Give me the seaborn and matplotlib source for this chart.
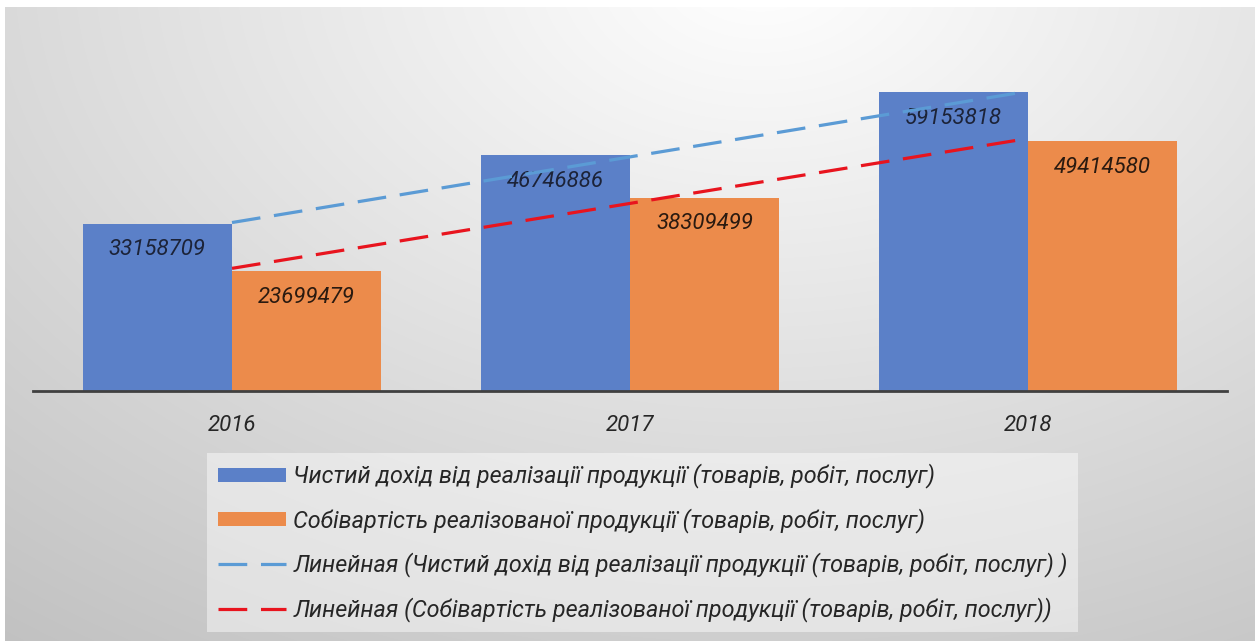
import numpy as np
import pandas as pd
import matplotlib
matplotlib.use("Agg")
import matplotlib.pyplot as plt
import seaborn as sns
from matplotlib.patches import Patch
from matplotlib.lines import Line2D

# ---- data ----
years = ["2016", "2017", "2018"]
income = [33158709, 46746886, 59153818]
cost = [23699479, 38309499, 49414580]
series_names = [
    "Чистий дохід від реалізації продукції (товарів, робіт, послуг)",
    "Собівартість реалізованої продукції (товарів, робіт, послуг)",
]
trend_names = [
    "Линейная (Чистий дохід від реалізації продукції (товарів, робіт, послуг) )",
    "Линейная (Собівартість реалізованої продукції (товарів, робіт, послуг))",
]

BLUE = "#5B80C8"
ORANGE = "#EC8B4B"
TREND_BLUE = "#5B9BD5"
TREND_RED = "#E8141E"

sns.set_theme(style="white")
plt.rcParams["font.family"] = ["Roboto", "DejaVu Sans"]

W, H = 1259, 641
fig = plt.figure(figsize=(W / 100, H / 100), dpi=100, facecolor="white")

# ---- radial gradient background ----
bx0, bx1, by_top = 5, 1255, 7
bg = fig.add_axes([bx0 / W, 0, (bx1 - bx0) / W, (H - by_top) / H], zorder=-5)
xs = np.arange(bx0, bx1)
ys = np.arange(by_top, H)
XX, YY = np.meshgrid(xs, ys)
r = np.sqrt(((XX - 760) / 1250.0) ** 2 + ((YY + 30) / 850.0) ** 2)
v = np.clip(255 - 62 * r, 0, 255) / 255.0
bg.imshow(np.dstack([v, v, v]), aspect="auto", interpolation="bilinear")
bg.set_axis_off()

# ---- main axes ----
scale = 198e3  # value per pixel
ymax = 70e6
ax_h = ymax / scale
ax_left, ax_right, ax_bottom = 33, 1227, H - 391
ax = fig.add_axes([ax_left / W, ax_bottom / H, (ax_right - ax_left) / W, ax_h / H])
ax.set_facecolor("none")

df = pd.DataFrame({
    "year": years * 2,
    "series": [series_names[0]] * 3 + [series_names[1]] * 3,
    "value": income + cost,
})

sns.barplot(data=df, x="year", y="value", hue="series", hue_order=series_names,
            palette=[BLUE, ORANGE], width=0.75, dodge=True, legend=False,
            saturation=1, edgecolor="none", ax=ax, zorder=2)

# data labels
label_colors = ["#1c2338", "#2a1a10"]
for cont, col in zip(ax.containers, label_colors):
    for bar in cont:
        h = bar.get_height()
        ax.annotate(f"{int(round(h))}",
                    xy=(bar.get_x() + bar.get_width() / 2, h),
                    xytext=(0, -19), textcoords="offset points",
                    ha="center", va="center", fontsize=16, fontstyle="italic",
                    color=col, zorder=3)

# linear trend lines
xpos = np.arange(len(years))
for vals, col in [(income, TREND_BLUE), (cost, TREND_RED)]:
    k, b = np.polyfit(xpos, vals, 1)
    ax.plot(xpos, k * xpos + b, color=col, lw=2.3, dashes=(9, 4.3),
            dash_capstyle="butt", zorder=4)

ax.set_xlim(-0.5, 2.5)
ax.set_ylim(0, ymax)
ax.set_xlabel("")
ax.set_ylabel("")
ax.set_yticks([])
for s in ["top", "left", "right"]:
    ax.spines[s].set_visible(False)
ax.spines["bottom"].set_color("#404040")
ax.spines["bottom"].set_linewidth(2.0)
ax.spines["bottom"].set_zorder(6)
ax.tick_params(axis="x", length=0, pad=17, labelsize=16, labelcolor="#262626")
for t in ax.get_xticklabels():
    t.set_fontstyle("italic")

# ---- legend ----
handles = [
    Patch(facecolor=BLUE, edgecolor="none"),
    Patch(facecolor=ORANGE, edgecolor="none"),
    Line2D([], [], color=TREND_BLUE, lw=2.3, dashes=(9, 4.3)),
    Line2D([], [], color=TREND_RED, lw=2.3, dashes=(9, 4.3)),
]
labels = series_names + trend_names
leg = fig.legend(handles, labels, loc="upper left",
                 bbox_to_anchor=(207 / W, (H - 453) / H),
                 prop={"size": 16.8, "style": "italic"},
                 frameon=True, fancybox=False, framealpha=0.45,
                 facecolor="white", edgecolor="none",
                 handlelength=2.95, handleheight=0.55, handletextpad=0.3,
                 labelspacing=0.84, borderpad=0.45, borderaxespad=0)
for t in leg.get_texts():
    t.set_color("#262626")

fig.savefig("out.png", dpi=100, facecolor="white")
